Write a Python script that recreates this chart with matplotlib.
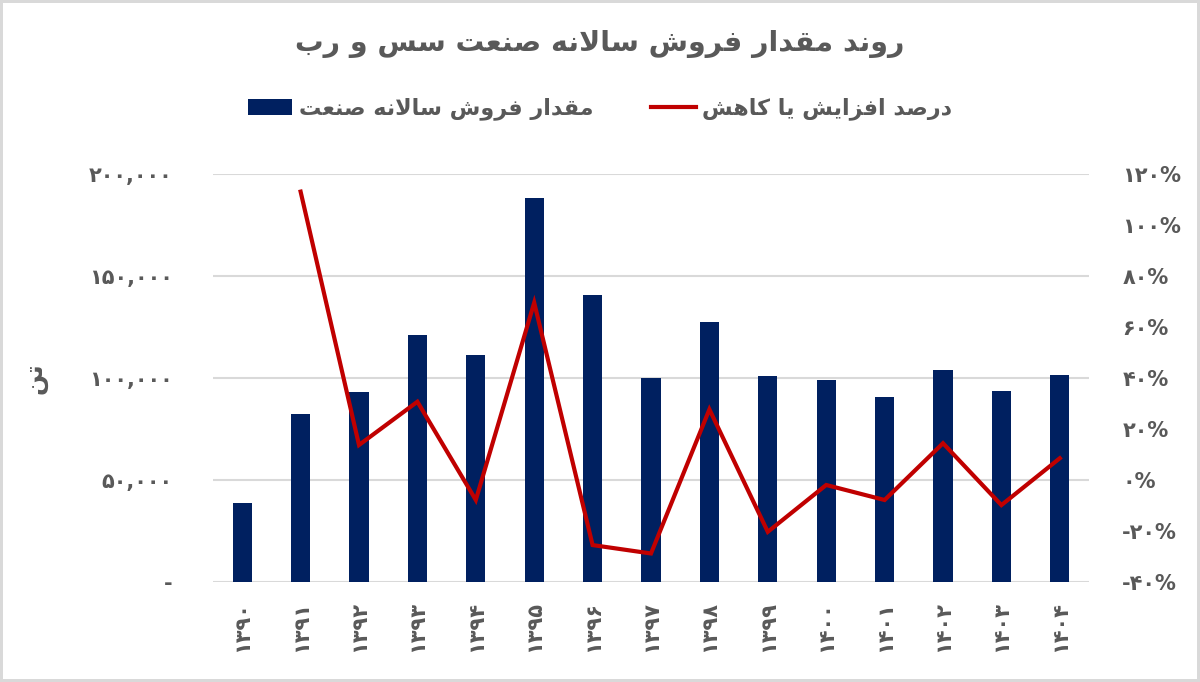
import matplotlib
matplotlib.use("Agg")
import matplotlib.pyplot as plt
import numpy as np

plt.rcParams['font.family'] = ['DejaVu Sans']

# Arabic/Persian shaping by hand (matplotlib has no complex text layout)
FORMS = {
    'ا': ('\uFE8D', '\uFE8E', None, None),
    'ب': ('\uFE8F', '\uFE90', '\uFE91', '\uFE92'),
    'ت': ('\uFE95', '\uFE96', '\uFE97', '\uFE98'),
    'د': ('\uFEA9', '\uFEAA', None, None),
    'ر': ('\uFEAD', '\uFEAE', None, None),
    'ز': ('\uFEAF', '\uFEB0', None, None),
    'س': ('\uFEB1', '\uFEB2', '\uFEB3', '\uFEB4'),
    'ش': ('\uFEB5', '\uFEB6', '\uFEB7', '\uFEB8'),
    'ص': ('\uFEB9', '\uFEBA', '\uFEBB', '\uFEBC'),
    'ع': ('\uFEC9', '\uFECA', '\uFECB', '\uFECC'),
    'ف': ('\uFED1', '\uFED2', '\uFED3', '\uFED4'),
    'ق': ('\uFED5', '\uFED6', '\uFED7', '\uFED8'),
    'ل': ('\uFEDD', '\uFEDE', '\uFEDF', '\uFEE0'),
    'م': ('\uFEE1', '\uFEE2', '\uFEE3', '\uFEE4'),
    'ن': ('\uFEE5', '\uFEE6', '\uFEE7', '\uFEE8'),
    'ه': ('\uFEE9', '\uFEEA', '\uFEEB', '\uFEEC'),
    'و': ('\uFEED', '\uFEEE', None, None),
    'ی': ('\uFBFC', '\uFBFD', '\uFBFE', '\uFBFF'),
    'ک': ('\uFB8E', '\uFB8F', '\uFB90', '\uFB91'),
}


def dual(c):
    return c in FORMS and FORMS[c][2] is not None


def shape(text):
    out = []
    i = 0
    n = len(text)
    while i < n:
        c = text[i]
        if c not in FORMS:
            out.append(c)
            i += 1
            continue
        prev_join = i > 0 and dual(text[i - 1])
        if c == 'ل' and i + 1 < n and text[i + 1] == 'ا':
            out.append('\uFEFC' if prev_join else '\uFEFB')
            i += 2
            continue
        next_join = dual(c) and i + 1 < n and text[i + 1] in FORMS
        iso, fin, ini, med = FORMS[c]
        if prev_join and next_join:
            out.append(med)
        elif prev_join:
            out.append(fin)
        elif next_join:
            out.append(ini)
        else:
            out.append(iso)
        i += 1
    return ''.join(out[::-1])


FA = str.maketrans('0123456789', '۰۱۲۳۴۵۶۷۸۹')

years = ['۱۳۹۰', '۱۳۹۱', '۱۳۹۲', '۱۳۹۳', '۱۳۹۴', '۱۳۹۵', '۱۳۹۶', '۱۳۹۷',
         '۱۳۹۸', '۱۳۹۹', '۱۴۰۰', '۱۴۰۱', '۱۴۰۲', '۱۴۰۳', '۱۴۰۴']
sales = [38500, 82300, 93000, 121100, 111300, 188200, 140700, 99850,
         127300, 101000, 99000, 90700, 103900, 93600, 101300]
# percent change, first year has no value
change = [np.nan, 113.2, 13.7, 30.7, -7.9, 69.6, -25.6, -28.9,
          27.7, -20.4, -2.0, -7.9, 14.4, -9.9, 8.5]

title = 'روند مقدار فروش سالانه صنعت سس و رب'
bar_label = 'مقدار فروش سالانه صنعت'
line_label = 'درصد افزایش یا کاهش'
unit = 'تن'

navy = '#002060'
red = '#c00000'
gray = '#595959'

fig = plt.figure(figsize=(12, 6.82), dpi=100)
fig.patch.set_edgecolor('#d9d9d9')
fig.patch.set_linewidth(3)
ax = fig.add_axes([0.1775, 0.147, 0.73, 0.5974])
ax2 = ax.twinx()

x = np.arange(len(years))
ax.bar(x, sales, 0.33, color=navy, label=shape(bar_label), zorder=2)
ax2.plot(x, np.array(change) / 100, color=red, lw=3, label=shape(line_label),
         solid_joinstyle='miter')

ax.set_xlim(-0.5, len(years) - 0.5)
ax.set_ylim(0, 200000)
ax2.set_ylim(-0.4, 1.2)
ax.set_yticks(np.arange(0, 200001, 50000))
ax.set_yticklabels(['-'] + [f'{v:,}'.translate(FA) for v in range(50000, 200001, 50000)])
ax2.set_yticks(np.arange(-0.4, 1.21, 0.2))
ax2.set_yticklabels([f'{round(v * 100)}%'.translate(FA) for v in np.arange(-0.4, 1.21, 0.2)])
ax.set_xticks(x, years, rotation=90)

ax.grid(axis='y', color='#d9d9d9', lw=1.5)
ax.set_axisbelow(True)
for a in (ax, ax2):
    for s in a.spines.values():
        s.set_visible(False)
ax.tick_params(length=0, colors=gray, labelsize=15)
ax.tick_params(axis='y', pad=29)
ax.tick_params(axis='x', pad=14)
ax2.tick_params(length=0, colors=gray, labelsize=15, pad=24)
for lab in ax.get_xticklabels() + ax.get_yticklabels() + ax2.get_yticklabels():
    lab.set_fontweight('bold')

ax.set_ylabel(shape(unit), fontsize=18, color=gray, fontweight='bold', labelpad=30)

fig.text(0.5, 0.935, shape(title), ha='center', va='center', fontsize=20.5,
         color=gray, fontweight='bold')

h1, l1 = ax.get_legend_handles_labels()
h2, l2 = ax2.get_legend_handles_labels()
fig.legend(h1 + h2, l1 + l2, loc='center', bbox_to_anchor=(0.5, 0.84), ncol=2,
           frameon=False, prop={'size': 16, 'weight': 'bold'}, labelcolor=gray,
           columnspacing=2.6, handlelength=2.0, handletextpad=0.3)

fig.savefig('out.png', dpi=100)
